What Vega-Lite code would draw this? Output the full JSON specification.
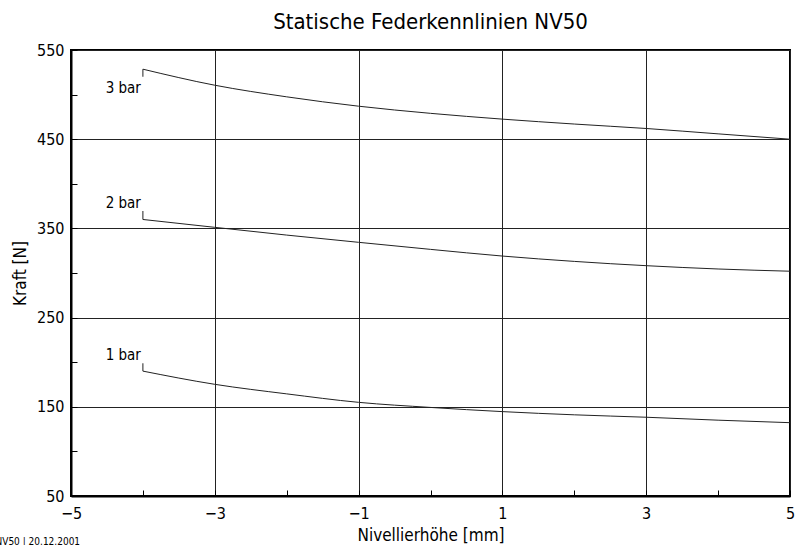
{
  "$schema": "https://vega.github.io/schema/vega-lite/v6.json",
  "autosize": "none",
  "padding": {"left": 71, "top": 50, "right": 16, "bottom": 49},
  "width": 719,
  "height": 446,
  "background": "white",
  "title": {
    "text": "Statische Federkennlinien NV50",
    "font": "DejaVu Sans Condensed, Liberation Sans, sans-serif",
    "fontSize": 22,
    "fontWeight": "normal",
    "color": "black",
    "baseline": "bottom",
    "offset": 14,
    "dy": 28
  },
  "config": {
    "view": {"stroke": "black", "strokeWidth": 2},
    "font": "DejaVu Sans Condensed, Liberation Sans, sans-serif"
  },
  "datasets": {
    "curves": [
      {"x": -4, "kraft": 528.5, "serie": "3 bar"},
      {"x": -3, "kraft": 510.5, "serie": "3 bar"},
      {"x": -2, "kraft": 497.5, "serie": "3 bar"},
      {"x": -1, "kraft": 487, "serie": "3 bar"},
      {"x": 0, "kraft": 479, "serie": "3 bar"},
      {"x": 1, "kraft": 472.5, "serie": "3 bar"},
      {"x": 2, "kraft": 467, "serie": "3 bar"},
      {"x": 3, "kraft": 462, "serie": "3 bar"},
      {"x": 4, "kraft": 456, "serie": "3 bar"},
      {"x": 5, "kraft": 450, "serie": "3 bar"},
      {"x": -4, "kraft": 360, "serie": "2 bar"},
      {"x": -3, "kraft": 351.2, "serie": "2 bar"},
      {"x": -2, "kraft": 342.5, "serie": "2 bar"},
      {"x": -1, "kraft": 334.4, "serie": "2 bar"},
      {"x": 0, "kraft": 326.5, "serie": "2 bar"},
      {"x": 1, "kraft": 319, "serie": "2 bar"},
      {"x": 2, "kraft": 313, "serie": "2 bar"},
      {"x": 3, "kraft": 308.2, "serie": "2 bar"},
      {"x": 4, "kraft": 304.5, "serie": "2 bar"},
      {"x": 5, "kraft": 302, "serie": "2 bar"},
      {"x": -4, "kraft": 190, "serie": "1 bar"},
      {"x": -3, "kraft": 175.2, "serie": "1 bar"},
      {"x": -2, "kraft": 164.5, "serie": "1 bar"},
      {"x": -1, "kraft": 155, "serie": "1 bar"},
      {"x": 0, "kraft": 149.3, "serie": "1 bar"},
      {"x": 1, "kraft": 144.6, "serie": "1 bar"},
      {"x": 2, "kraft": 141, "serie": "1 bar"},
      {"x": 3, "kraft": 138.3, "serie": "1 bar"},
      {"x": 4, "kraft": 135, "serie": "1 bar"},
      {"x": 5, "kraft": 132.2, "serie": "1 bar"}
    ],
    "labels": [
      {"x": -4, "y": 502, "y1": 528.5, "y2": 520, "label": "3 bar"},
      {"x": -4, "y": 372.5, "y1": 360, "y2": 369.5, "label": "2 bar"},
      {"x": -4, "y": 202.5, "y1": 190, "y2": 198.8, "label": "1 bar"}
    ],
    "footer": [
      {"x": -6.05, "y": -1.5, "label": "NV50 | 20.12.2001"}
    ]
  },
  "layer": [
    {
      "data": {"name": "curves"},
      "mark": {"type": "line", "interpolate": "monotone", "color": "#222", "strokeWidth": 1},
      "encoding": {
        "x": {
          "field": "x", "type": "quantitative",
          "scale": {"domain": [-5, 5], "nice": false, "zero": false},
          "axis": {
            "title": "Nivellierhöhe [mm]",
            "titleFont": "DejaVu Sans Condensed, Liberation Sans, sans-serif",
            "titleFontSize": 17,
            "titleFontWeight": "normal",
            "titleColor": "black",
            "titlePadding": 6,
            "values": [-5, -4, -3, -2, -1, 0, 1, 2, 3, 4, 5],
            "format": "d",
            "labelExpr": "abs(datum.value) % 2 == 1 ? datum.label : ''",
            "labelFont": "DejaVu Sans Condensed, Liberation Sans, sans-serif",
            "labelFontSize": 16,
            "labelColor": "black",
            "labelPadding": 15,
            "labelFlush": false,
            "labelOverlap": false,
            "domainColor": "black",
            "domainWidth": 2,
            "tickColor": "black",
            "tickWidth": 1,
            "tickSize": -6,
            "grid": true,
            "gridColor": "#222",
            "gridWidth": 1,
            "gridOpacity": {"condition": {"test": "abs(datum.value) % 2 == 0", "value": 0}, "value": 1}
          }
        },
        "y": {
          "field": "kraft", "type": "quantitative",
          "scale": {"domain": [50, 550], "nice": false, "zero": false},
          "axis": {
            "title": "Kraft [N]",
            "titleFont": "DejaVu Sans Condensed, Liberation Sans, sans-serif",
            "titleFontSize": 17,
            "titleFontWeight": "normal",
            "titleColor": "black",
            "titlePadding": 7,
            "values": [50, 100, 150, 200, 250, 300, 350, 400, 450, 500, 550],
            "format": "d",
            "labelExpr": "(datum.value - 50) % 100 == 0 ? datum.label : ''",
            "labelFont": "DejaVu Sans Condensed, Liberation Sans, sans-serif",
            "labelFontSize": 16,
            "labelColor": "black",
            "labelPadding": 13,
            "labelFlush": false,
            "labelOverlap": false,
            "domainColor": "black",
            "domainWidth": 2,
            "tickColor": "black",
            "tickWidth": 1,
            "tickSize": -6,
            "grid": true,
            "gridColor": "#222",
            "gridWidth": 1,
            "gridOpacity": {"condition": {"test": "datum.value % 100 == 0", "value": 0}, "value": 1}
          }
        },
        "detail": {"field": "serie", "type": "nominal"}
      }
    },
    {
      "data": {"name": "labels"},
      "mark": {"type": "rule", "color": "#222", "strokeWidth": 1},
      "encoding": {
        "x": {"field": "x", "type": "quantitative"},
        "y": {"field": "y1", "type": "quantitative"},
        "y2": {"field": "y2"}
      }
    },
    {
      "data": {"name": "labels"},
      "mark": {"type": "text", "align": "right", "baseline": "alphabetic", "dx": -2, "font": "DejaVu Sans Condensed, Liberation Sans, sans-serif", "fontSize": 15, "color": "black"},
      "encoding": {
        "x": {"field": "x", "type": "quantitative"},
        "y": {"field": "y", "type": "quantitative"},
        "text": {"field": "label"}
      }
    },
    {
      "data": {"name": "footer"},
      "mark": {"type": "text", "align": "left", "baseline": "middle", "font": "DejaVu Sans Condensed, Liberation Sans, sans-serif", "fontSize": 10, "color": "black", "clip": false},
      "encoding": {
        "x": {"field": "x", "type": "quantitative"},
        "y": {"field": "y", "type": "quantitative"},
        "text": {"field": "label"}
      }
    }
  ]
}
